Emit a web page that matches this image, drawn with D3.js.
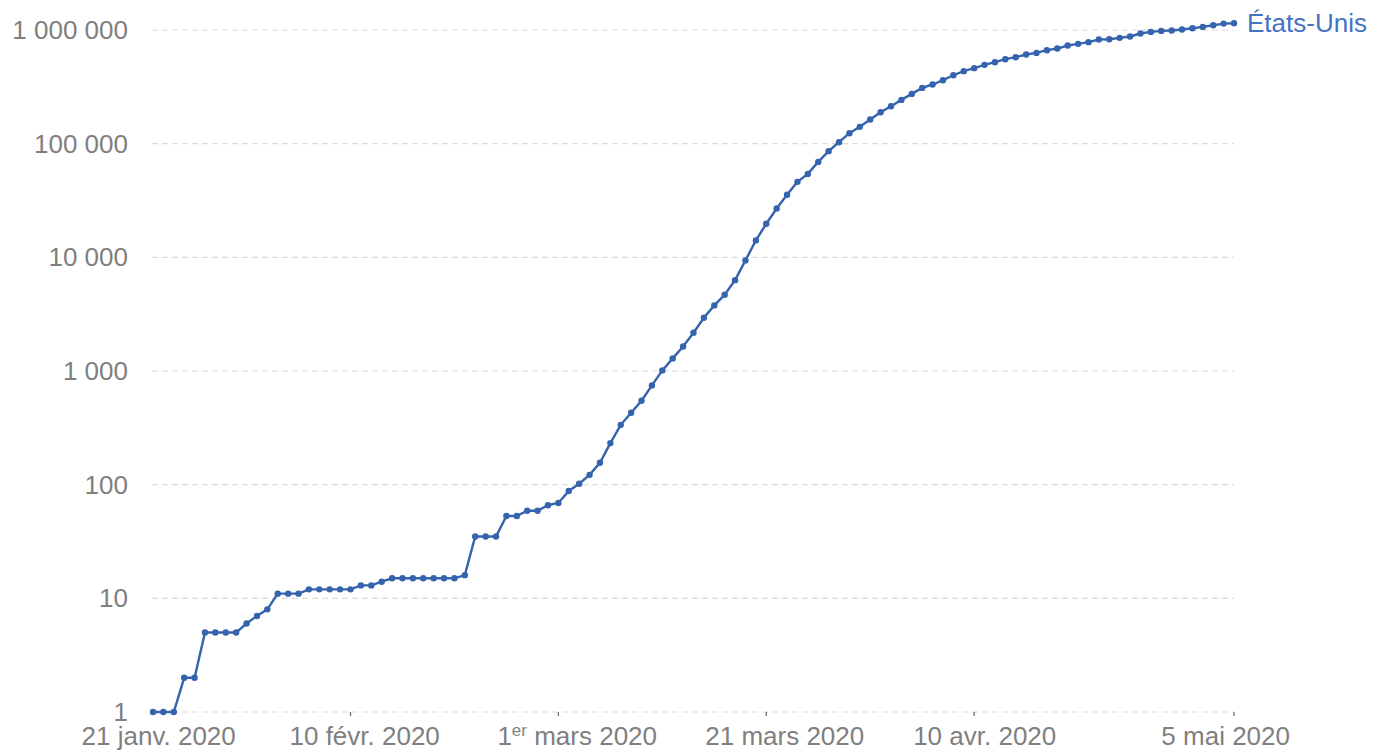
<!DOCTYPE html>
<html>
<head>
<meta charset="utf-8">
<script src="https://cdn.jsdelivr.net/npm/d3@7"></script>
<style>
  body { margin: 0; background: #fff; }
  text { font-family: "Liberation Sans", Arial, sans-serif; }
</style>
</head>
<body>
<script>
var w = 1383,
    h = 752;

// cas confirmés, un point par jour à partir du 22 janv. 2020
var startDay = "2020-01-22";
var cases = [
  1, 1, 1, 2, 2, 5, 5, 5, 5, 6, 7, 8, 11, 11, 11, 12, 12, 12, 12, 12,
  13, 13, 14, 15, 15, 15, 15, 15, 15, 15, 16, 35, 35, 35, 53, 53, 59, 59, 66, 69,
  88, 102, 122, 156, 232, 336, 429, 547, 747, 1012, 1291, 1645, 2168, 2938, 3776, 4680, 6298, 9394, 14090, 19740,
  26900, 35480, 46130, 54200, 69150, 85900, 103000, 123600, 140600, 163300, 189100, 213600, 242700, 274000, 309500, 331500, 361700, 400000, 434300, 461600,
  493600, 521100, 553700, 576500, 608700, 629000, 664400, 687000, 730700, 755000, 781600, 824800, 830000, 852600, 877000, 931800, 962500, 982000, 989000, 1009000,
  1036000, 1065000, 1101000, 1139000, 1148000
];
var seriesName = "États-Unis";

var xTickDates = ["2020-01-21", "2020-02-10", "2020-03-01", "2020-03-21", "2020-04-10", "2020-05-05"];
var xTickLabels = [["21 janv. 2020"], ["10 févr. 2020"], ["1", "er", " mars 2020"], ["21 mars 2020"], ["10 avr. 2020"], ["5 mai 2020"]];
var yTicks = [1, 10, 100, 1000, 10000, 100000, 1000000];

var parse = d3.utcParse("%Y-%m-%d");
var t0 = parse(startDay);
var data = cases.map(function(v, i) { return { date: d3.utcDay.offset(t0, i), value: v }; });

var fr = d3.formatLocale({ decimal: ",", thousands: " ", grouping: [3], currency: ["", " €"] });
var fmt = fr.format(",d");

var svg = d3.select("body").append("svg")
    .attr("width", w)
    .attr("height", h);

var x = d3.scaleUtc()
    .domain([t0, data[data.length - 1].date])
    .range([153, 1234]);

var y = d3.scaleLog()
    .domain([1, 1000000])
    .range([712, 30]);

// grille horizontale
svg.append("g").selectAll("line.grid")
    .data(yTicks)
    .enter().append("line")
    .attr("class", "grid")
    .attr("x1", 152)
    .attr("x2", 1234)
    .attr("y1", function(d) { return y(d); })
    .attr("y2", function(d) { return y(d); })
    .attr("stroke", "#dcdcdc")
    .attr("stroke-width", 1.2)
    .attr("stroke-dasharray", "6,4");

svg.append("g").selectAll("text.ylab")
    .data(yTicks)
    .enter().append("text")
    .attr("class", "ylab")
    .attr("x", 128)
    .attr("y", function(d) { return y(d); })
    .attr("dy", "0.35em")
    .attr("text-anchor", "end")
    .attr("font-size", 26)
    .attr("fill", "#7f7f7f")
    .text(function(d) { return fmt(d); });

// axe des dates
var xt = svg.append("g");
xTickDates.forEach(function(ds, i) {
  var d = parse(ds);
  var px = x(d);
  if (d >= t0) {
    xt.append("line")
      .attr("x1", px).attr("x2", px)
      .attr("y1", 712).attr("y2", 716)
      .attr("stroke", "#666")
      .attr("stroke-width", 1.2);
  }
  var t = xt.append("text")
    .attr("x", px - 61)
    .attr("y", 745)
    .attr("font-size", 26)
    .attr("fill", "#7f7f7f");
  var parts = xTickLabels[i];
  if (parts.length == 3) {
    t.append("tspan").text(parts[0]);
    t.append("tspan").attr("font-size", 17).attr("dy", -9).text(parts[1]);
    t.append("tspan").attr("dy", 9).text(parts[2]);
  } else {
    t.text(parts[0]);
  }
  var bb = t.node().getBBox();
  if (bb.x + bb.width > 1290) t.attr("x", px - 61 - (bb.x + bb.width - 1290));
});

// la courbe
var line = d3.line()
    .x(function(d) { return x(d.date); })
    .y(function(d) { return y(d.value); });

svg.append("path")
    .datum(data)
    .attr("fill", "none")
    .attr("stroke", "#3563ad")
    .attr("stroke-width", 2.4)
    .attr("d", line);

svg.append("g").selectAll("circle")
    .data(data)
    .enter().append("circle")
    .attr("cx", function(d) { return x(d.date); })
    .attr("cy", function(d) { return y(d.value); })
    .attr("r", 3.2)
    .attr("fill", "#3563ad");

var last = data[data.length - 1];
svg.append("text")
    .attr("x", x(last.date) + 13)
    .attr("y", y(last.value))
    .attr("dy", "0.35em")
    .attr("font-size", 26)
    .attr("fill", "#4472c4")
    .text(seriesName);
</script>
</body>
</html>
